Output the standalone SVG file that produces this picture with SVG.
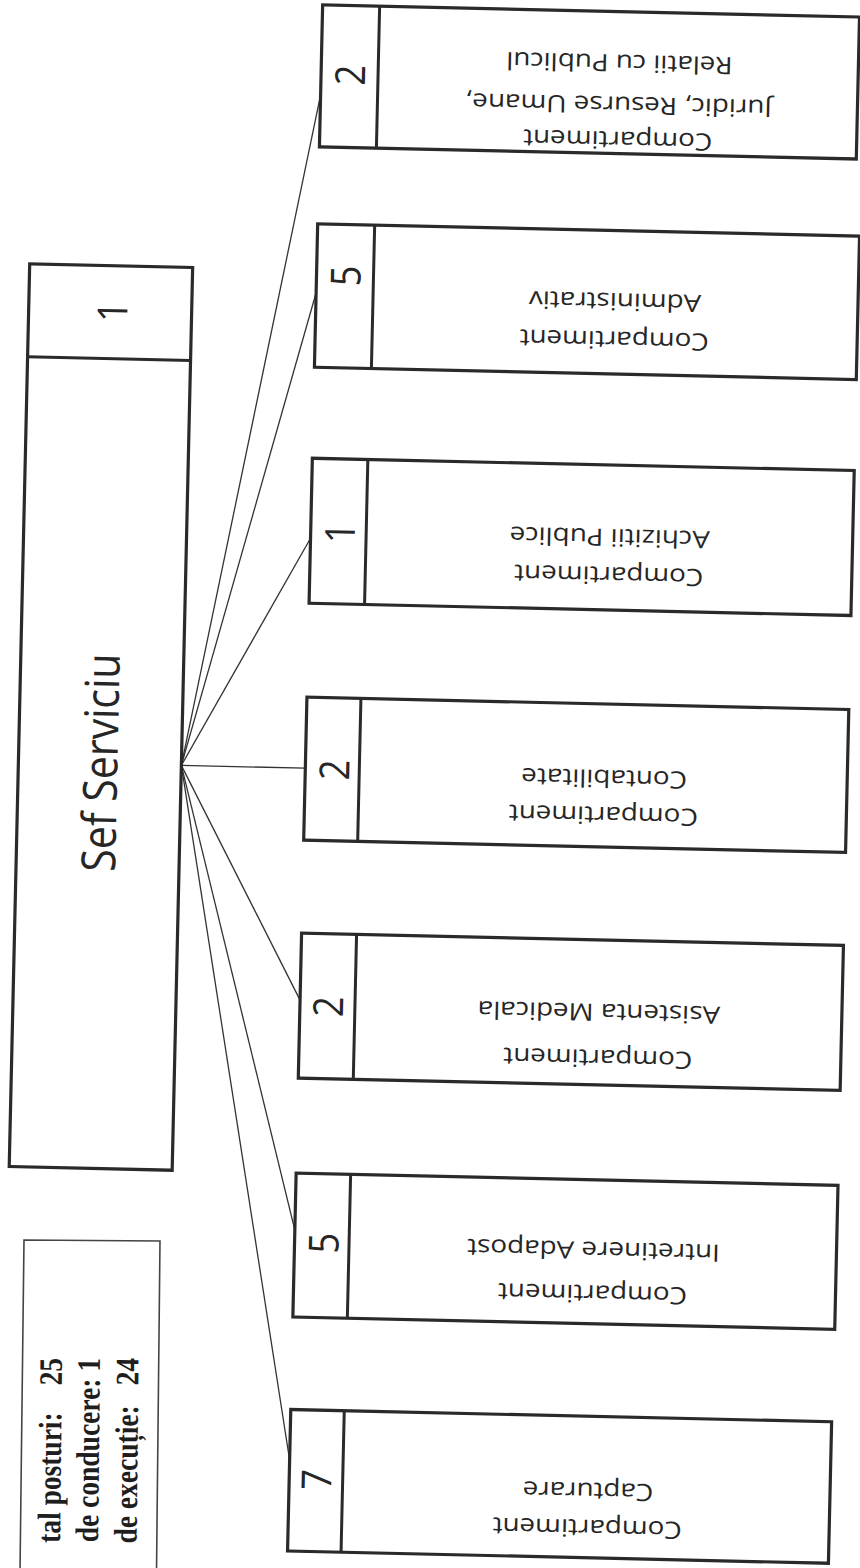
<svg xmlns="http://www.w3.org/2000/svg" width="860" height="1568" viewBox="0 0 860 1568">
<style>
.box{fill:#fff;stroke:#2a2a2a;stroke-width:3.2}
.div{stroke:#2a2a2a;stroke-width:3}
.conn{stroke:#333;stroke-width:1.3;fill:none}
.lbl{font-family:"Open Sans","DejaVu Sans",sans-serif;font-size:24px;fill:#262626;text-anchor:middle}
.num{font-family:"Open Sans","DejaVu Sans",sans-serif;font-size:36px;fill:#262626;text-anchor:middle}
.title{font-family:"Open Sans","DejaVu Sans",sans-serif;font-size:41px;fill:#262626;text-anchor:middle}
.leg{font-family:"Liberation Serif","Times New Roman",serif;font-weight:bold;font-size:27.5px;fill:#1e1e1e;text-anchor:end;white-space:pre}
.legbox{fill:none;stroke:#444;stroke-width:1.6}
</style>
<rect x="0" y="0" width="860" height="1568" fill="#fff"/>
<g transform="rotate(1.3 430 784)">
  <g id="connectors">
    <line class="conn" x1="181" y1="771" x2="305" y2="97.5"/>
    <line class="conn" x1="181" y1="771" x2="305" y2="295.5"/>
    <line class="conn" x1="181" y1="771" x2="305" y2="541"/>
    <line class="conn" x1="181" y1="771" x2="305" y2="771"/>
    <line class="conn" x1="181" y1="771" x2="305" y2="1003"/>
    <line class="conn" x1="181" y1="771" x2="305" y2="1233"/>
    <line class="conn" x1="181" y1="771" x2="305" y2="1463"/>
  </g>
  <g id="sef-serviciu">
    <rect class="box" x="18" y="273" width="163" height="903"/>
    <line class="div" x1="18" y1="366" x2="181" y2="366"/>
    <text class="num" transform="translate(116.5,319) rotate(-90) scale(1,1.15)">1</text>
    <text class="title" transform="translate(117,770) rotate(-90) scale(1,1.15)">Sef Serviciu</text>
  </g>
  <g id="comp-juridic">
    <rect class="box" x="305" y="7.5" width="537" height="142"/>
    <line class="div" x1="362" y1="7.5" x2="362" y2="149.5"/>
    <text class="num" transform="translate(349,77) rotate(-90) scale(1,1.15)">2</text>
    <text class="lbl" transform="translate(603,127.5) rotate(180) scale(1.16,1)">Compartiment</text>
    <text class="lbl" transform="translate(603,92.5) rotate(180) scale(1.16,1)">Juridic, Resurse Umane,</text>
    <text class="lbl" transform="translate(603,50.5) rotate(180) scale(1.16,1)">Relatii cu Publicul</text>
  </g>
  <g id="comp-administrativ">
    <rect class="box" x="305" y="226.5" width="542" height="143.5"/>
    <line class="div" x1="362" y1="226.5" x2="362" y2="370"/>
    <text class="num" transform="translate(349,278) rotate(-90) scale(1,1.15)">5</text>
    <text class="lbl" transform="translate(604,327.5) rotate(180) scale(1.16,1)">Compartiment</text>
    <text class="lbl" transform="translate(604,289) rotate(180) scale(1.16,1)">Administrativ</text>
  </g>
  <g id="comp-achizitii">
    <rect class="box" x="305" y="461" width="542" height="145"/>
    <line class="div" x1="360.5" y1="461" x2="360.5" y2="606"/>
    <text class="num" transform="translate(349,535) rotate(-90) scale(1,1.15)">1</text>
    <text class="lbl" transform="translate(604,563) rotate(180) scale(1.16,1)">Compartiment</text>
    <text class="lbl" transform="translate(604,525) rotate(180) scale(1.16,1)">Achizitii Publice</text>
  </g>
  <g id="comp-contabilitate">
    <rect class="box" x="305" y="700" width="542" height="143"/>
    <line class="div" x1="359" y1="700" x2="359" y2="843"/>
    <text class="num" transform="translate(349,772) rotate(-90) scale(1,1.15)">2</text>
    <text class="lbl" transform="translate(604,803) rotate(180) scale(1.16,1)">Compartiment</text>
    <text class="lbl" transform="translate(604,766) rotate(180) scale(1.16,1)">Contabilitate</text>
  </g>
  <g id="comp-asistenta">
    <rect class="box" x="305" y="936" width="542" height="145"/>
    <line class="div" x1="360" y1="936" x2="360" y2="1081"/>
    <text class="num" transform="translate(348,1009) rotate(-90) scale(1,1.15)">2</text>
    <text class="lbl" transform="translate(604,1046) rotate(180) scale(1.16,1)">Compartiment</text>
    <text class="lbl" transform="translate(604,1000) rotate(180) scale(1.16,1)">Asistenta Medicala</text>
  </g>
  <g id="comp-intretinere">
    <rect class="box" x="305" y="1176" width="542" height="144"/>
    <line class="div" x1="359.5" y1="1176" x2="359.5" y2="1320"/>
    <text class="num" transform="translate(349,1245.5) rotate(-90) scale(1,1.15)">5</text>
    <text class="lbl" transform="translate(604,1281.5) rotate(180) scale(1.16,1)">Compartiment</text>
    <text class="lbl" transform="translate(604,1238) rotate(180) scale(1.16,1)">Intretinere Adapost</text>
  </g>
  <g id="comp-capturare">
    <rect class="box" x="305" y="1412.5" width="541" height="141.5"/>
    <line class="div" x1="358.5" y1="1412.5" x2="358.5" y2="1554"/>
    <text class="num" transform="translate(347,1482) rotate(-90) scale(1,1.15)">7</text>
    <text class="lbl" transform="translate(604,1516) rotate(180) scale(1.16,1)">Compartiment</text>
    <text class="lbl" transform="translate(604,1479) rotate(180) scale(1.16,1)">Capturare</text>
  </g>
</g>
<g id="legend">
  <polygon class="legbox" points="24,1240 160,1241 156.5,1572 20,1572"/>
  <text class="leg" xml:space="preserve" transform="translate(62,1358) rotate(-89.4) scale(1,1.19)">tal posturi: <tspan dx="20">25</tspan></text>
  <text class="leg" xml:space="preserve" transform="translate(100,1358) rotate(-89.4) scale(1,1.19)">de conducere: 1</text>
  <text class="leg" xml:space="preserve" transform="translate(138.5,1358) rotate(-89.4) scale(1,1.19)">de execuție: <tspan dx="13">24</tspan></text>
</g>
</svg>
